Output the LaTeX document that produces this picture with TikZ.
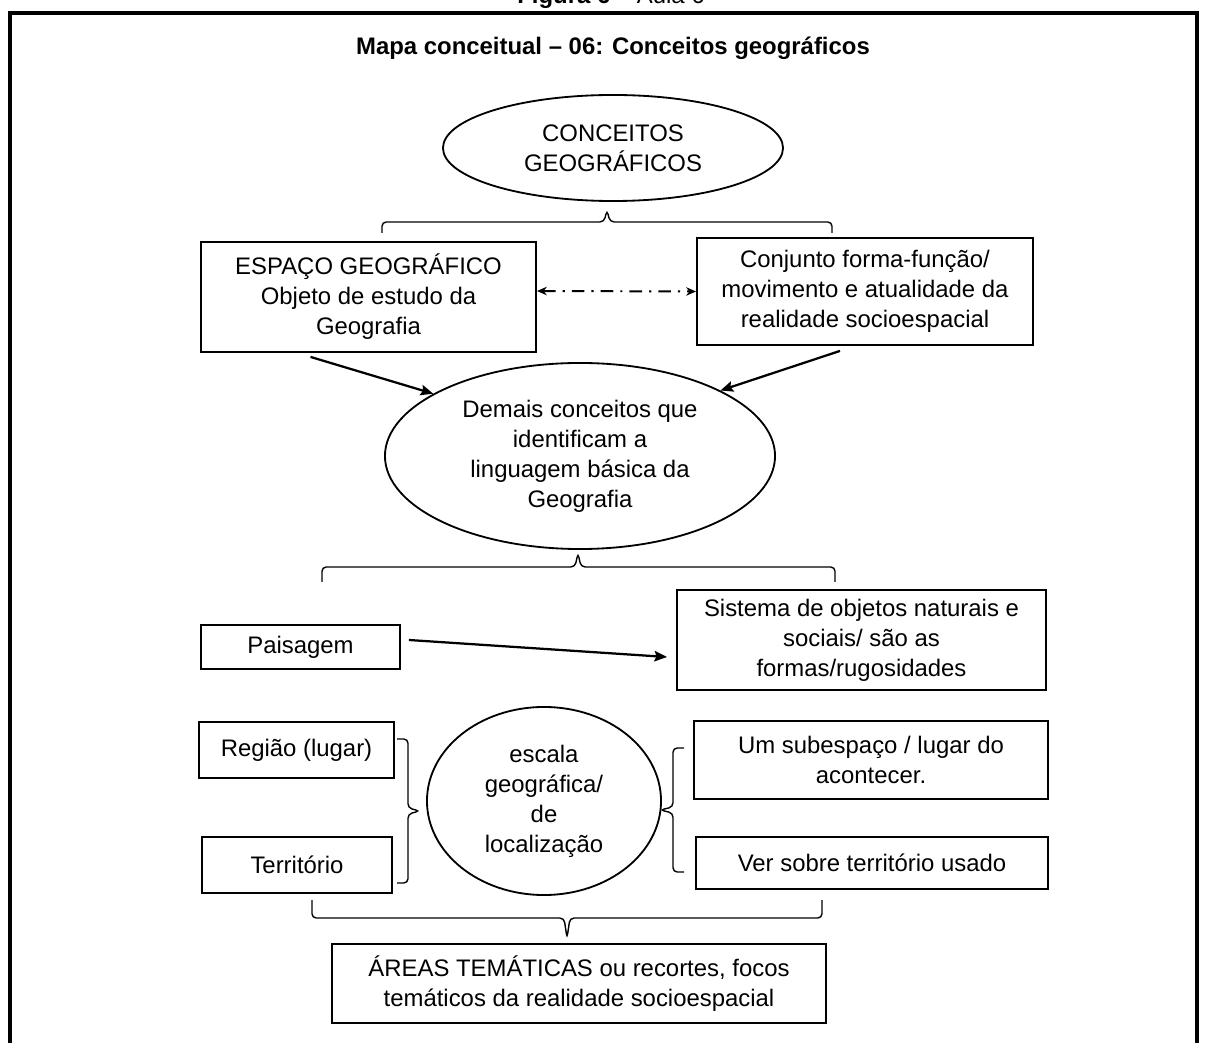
\documentclass[tikz,border=0pt]{standalone}
\usepackage{fontspec}
\setmainfont{Liberation Sans}
\usetikzlibrary{arrows.meta, positioning, shapes.geometric, calc}

\begin{document}
\begin{tikzpicture}[x=0.025cm, y=-0.025cm, every node/.style={font=\fontsize{17}{21.3}\selectfont},
  mapbox/.style={rectangle, draw, line width=1.3pt, align=center, inner sep=0pt},
  mapoval/.style={ellipse, draw, line width=1.3pt, align=center, inner sep=0pt},
  maparrow/.style={-{Stealth[length=9pt, width=7.5pt, inset=1.5pt]}, line width=1.6pt},
  linkarrow/.style={{Stealth[length=7pt, width=6pt]}-{Stealth[length=7pt, width=6pt]}, line width=1.4pt, dash pattern=on 9pt off 5pt on 1.5pt off 5pt},
  mapbrace/.style={line width=1pt, rounded corners=3pt},
]
\useasboundingbox (0,0) rectangle (1206,1043);
\node[anchor=base] (figcap) at (611,4) {\textbf{Figura 6} – Aula 6};
\draw[line width=2.2pt] (10,13) rectangle (1197,1080);
\node (title) at (613,48) {\textbf{Mapa conceitual – 06: Conceitos geográficos}};

\node[mapoval, minimum width=8.5cm, minimum height=2.65cm] (conceitos) at (613,148) {CONCEITOS\\GEOGRÁFICOS};
\node[mapbox, minimum width=8.375cm, minimum height=2.75cm] (espaco) at (368.5,297) {ESPAÇO GEOGRÁFICO\\Objeto de estudo da\\Geografia};
\node[mapbox, minimum width=8.4cm, minimum height=2.675cm] (conjunto) at (865,291.5) {Conjunto forma-função/\\movimento e atualidade da\\realidade socioespacial};
\node[mapoval, minimum width=9.75cm, minimum height=4.65cm] (demais) at (580,456) {Demais conceitos que\\identificam a\\linguagem básica da\\Geografia};
\node[mapbox, minimum width=4.975cm, minimum height=1.1cm] (paisagem) at (300.5,647) {Paisagem};
\node[mapbox, minimum width=9.225cm, minimum height=2.5cm] (sistema) at (861.5,640) {Sistema de objetos naturais e\\sociais/ são as\\formas/rugosidades};
\node[mapbox, minimum width=4.875cm, minimum height=1.4cm] (regiao) at (296.5,750) {Região (lugar)};
\node[mapbox, minimum width=4.75cm, minimum height=1.4cm] (territorio) at (297,865) {Território};
\node[mapoval, minimum width=5.85cm, minimum height=4.7cm] (escala) at (544,801) {escala\\geográfica/\\de\\localização};
\node[mapbox, minimum width=8.85cm, minimum height=1.95cm] (subespaco) at (871,760) {Um subespaço / lugar do\\acontecer.};
\node[mapbox, minimum width=8.8cm, minimum height=1.3cm] (usado) at (872,863) {Ver sobre território usado};
\node[mapbox, minimum width=12.35cm, minimum height=1.975cm] (areas) at (579,983.5) {ÁREAS TEMÁTICAS ou recortes, focos\\temáticos da realidade socioespacial};

\coordinate (b1l) at (382,233); \coordinate (b1tip) at (607,210); \coordinate (b1r) at (832,233);
\coordinate (b2l) at (322,582); \coordinate (b2tip) at (578,553); \coordinate (b2r) at (835,582);
\coordinate (b3t) at (397,739); \coordinate (b3tip) at (420,811); \coordinate (b3b) at (397,883);
\coordinate (b4t) at (684,748); \coordinate (b4tip) at (660,810); \coordinate (b4b) at (684,872);
\coordinate (b5l) at (312,900); \coordinate (b5tip) at (567,938); \coordinate (b5r) at (822,900);
\draw[mapbrace] (b1l) |- ($(b1tip)+(-3,12)$) -- (b1tip) -- ($(b1tip)+(3,12)$) -| (b1r);
\draw[mapbrace] (b2l) |- ($(b2tip)+(-3,14)$) -- (b2tip) -- ($(b2tip)+(3,14)$) -| (b2r);
\draw[mapbrace] (b3t) -| ($(b3tip)+(-12,-3)$) -- (b3tip) -- ($(b3tip)+(-12,3)$) |- (b3b);
\draw[mapbrace] (b4t) -| ($(b4tip)+(13,-3)$) -- (b4tip) -- ($(b4tip)+(13,3)$) |- (b4b);
\draw[mapbrace] (b5l) |- ($(b5tip)+(-3,-20)$) -- (b5tip) -- ($(b5tip)+(3,-20)$) -| (b5r);

\draw[linkarrow] ($(espaco.east)+(0,-6)$) -- (conjunto.west);
\draw[maparrow] ($(espaco.south)+(-58,4)$) -- (demais.157);
\draw[maparrow] ($(conjunto.south)+(-25,5)$) -- (demais.25);
\draw[maparrow] ($(paisagem.east)+(8,-7)$) -- ($(sistema.west)+(-9,17)$);
\end{tikzpicture}
\end{document}
